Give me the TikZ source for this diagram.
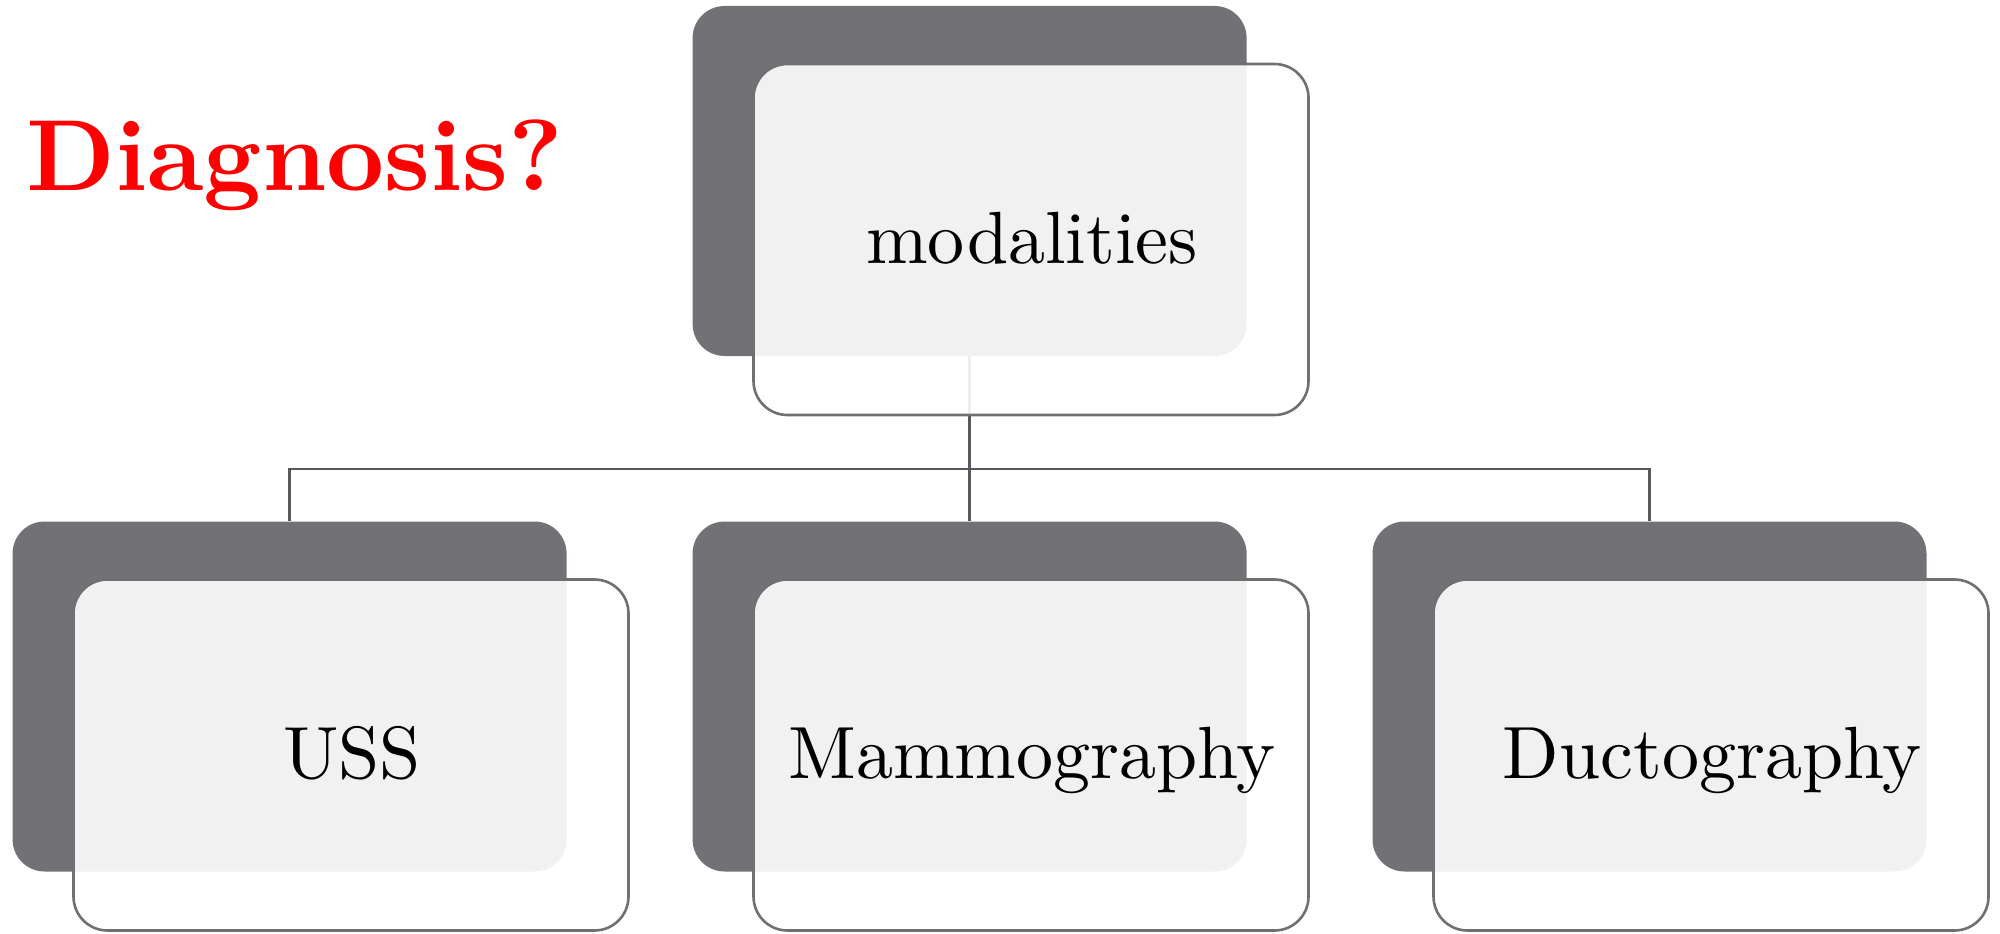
\documentclass[tikz,border=0pt]{standalone}
\usepackage{fontspec}
\usetikzlibrary{positioning}
% text-size Latin Modern cuts, scaled up
\newfontfamily\cardfont{lmroman10-regular.otf}
\newfontfamily\titlefont{lmroman10-bold.otf}
\definecolor{backgray}{RGB}{114,113,118}
\definecolor{edgegray}{RGB}{112,112,115}
\definecolor{linkgray}{RGB}{88,88,92}
\definecolor{titlered}{RGB}{255,0,0}
\tikzset{
  backcard/.style={draw=none, fill=backgray, rounded corners=32pt,
    minimum width=554pt, minimum height=350pt, inner sep=0pt},
  frontcard/.style={draw=edgegray, line width=2.6pt, fill=white, fill opacity=0.9,
    text opacity=1, rounded corners=34pt,
    minimum width=555pt, minimum height=351pt, inner sep=0pt},
  cardtext/.style={font=\cardfont\fontsize{74}{80}\selectfont, text=black, anchor=base},
  link/.style={draw=linkgray, line width=2.5pt},
}
\begin{document}
\begin{tikzpicture}[x=1pt,y=-1pt]
  \useasboundingbox (0,0) rectangle (2000,934);

  % title
  \node[font=\titlefont\fontsize{101}{110}\selectfont, text=titlered, anchor=base west,
        inner sep=0pt] (title) at (26,190) {Diagnosis?};

  % back cards
  \node[backcard] (modback) at (969.6,181) {};
  \node[backcard] (ussback) at (289.6,696.5) {};
  \node[backcard] (mamback) at (969.6,696.5) {};
  \node[backcard] (ductback) at (1649.5,696.5) {};

  % connectors (drawn under the front cards)
  \coordinate (bus) at (969.6,469);
  \draw[link] (modback.south) -- (bus);
  \draw[link] (bus) -| (ussback.north);
  \draw[link] (bus) -- (mamback.north);
  \draw[link] (bus) -| (ductback.north);

  % front cards
  \node[frontcard] (mod) at (1031,239.5) {};
  \node[frontcard] (uss) at (351,755) {};
  \node[frontcard] (mam) at (1031,755) {};
  \node[frontcard] (duct) at (1711,755) {};

  % card labels
  \node[cardtext] (modlabel) at (1032,263) {modalities};
  \node[cardtext] (usslabel) at (352,778) {USS};
  \node[cardtext] (mamlabel) at (1032,778) {Mammography};
  \node[cardtext] (ductlabel) at (1712,778) {Ductography};
\end{tikzpicture}
\end{document}
